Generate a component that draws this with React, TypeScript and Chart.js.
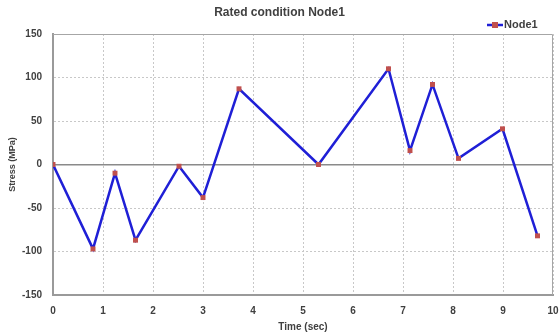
import React, { useEffect, useRef } from "react";
import { Chart, registerables } from "chart.js";

Chart.register(...registerables);

const chartTitle = "Rated condition Node1";
const seriesName = "Node1";
const timeSec = [0, 0.8, 1.24, 1.65, 2.52, 3.0, 3.72, 5.31, 6.71, 7.14, 7.59, 8.11, 8.99, 9.69];
const stressMPa = [0, -97, -10, -87, -2, -38, 87, 0, 110, 16, 92, 7, 41, -82];
const xTicks = [0, 10, 1];
const yTicks = [-150, 150, 50];

const LINE = "#1f1fd6";
const MARK = "#c0504d";
const FONT = "'Liberation Sans', Arial, sans-serif";
const TXT = "#404040";

const framePlugin = {
  id: "frame",
  afterDraw(chart: any) {
    const { ctx, chartArea: a } = chart;
    ctx.save();
    ctx.strokeStyle = "#a6a6a6";
    ctx.lineWidth = 1;
    ctx.beginPath();
    ctx.moveTo(a.left, a.top + 0.5);
    ctx.lineTo(a.right - 0.5, a.top + 0.5);
    ctx.lineTo(a.right - 0.5, a.bottom);
    ctx.stroke();
    // legend
    const ly = 25;
    const lx = 487;
    ctx.strokeStyle = LINE;
    ctx.lineWidth = 2.5;
    ctx.beginPath();
    ctx.moveTo(lx, ly);
    ctx.lineTo(lx + 16, ly);
    ctx.stroke();
    ctx.fillStyle = MARK;
    ctx.fillRect(lx + 5, ly - 3, 6, 6);
    ctx.fillStyle = TXT;
    ctx.font = `bold 11px ${FONT}`;
    ctx.textBaseline = "middle";
    ctx.textAlign = "left";
    ctx.fillText(seriesName, lx + 17, ly);
    ctx.restore();
  },
};

export default function App() {
  const ref = useRef<HTMLCanvasElement>(null);
  useEffect(() => {
    const chart = new Chart(ref.current!, {
      type: "line",
      data: {
        datasets: [
          {
            label: seriesName,
            data: timeSec.map((t, i) => ({ x: t, y: stressMPa[i] })),
            borderColor: LINE,
            borderWidth: 2.5,
            pointStyle: "rect",
            pointRadius: 3.5,
            pointBackgroundColor: MARK,
            pointBorderColor: MARK,
            pointBorderWidth: 0,
            tension: 0,
          },
        ],
      },
      options: {
        animation: false,
        responsive: false,
        layout: { padding: { top: 0, right: 0, bottom: 0, left: 0 } },
        plugins: {
          legend: { display: false },
          tooltip: { enabled: false },
          title: {
            display: true,
            text: chartTitle,
            color: TXT,
            font: { family: FONT, size: 12, weight: "bold", lineHeight: 1.2 },
            padding: { top: 5, bottom: 14.6 },
          },
        },
        scales: {
          x: {
            type: "linear",
            min: xTicks[0],
            max: xTicks[1],
            ticks: {
              stepSize: xTicks[2],
              color: TXT,
              font: { family: FONT, size: 10, weight: "bold" },
              padding: 10,
              maxRotation: 0,
            },
            grid: { color: "#c8c8c8", drawTicks: false },
            border: { color: "#9a9a9a", width: 2, dash: [2, 2] },
            title: {
              display: true,
              text: "Time (sec)",
              color: TXT,
              font: { family: FONT, size: 10, weight: "bold" },
              padding: { top: 2, bottom: 2 },
            },
            afterFit: (s: any) => {
              s.height = 40;
              s.paddingLeft = 0;
              s.paddingRight = 6;
            },
          },
          y: {
            min: yTicks[0],
            max: yTicks[1],
            ticks: {
              stepSize: yTicks[2],
              color: TXT,
              font: { family: FONT, size: 10, weight: "bold" },
              padding: 11,
            },
            grid: {
              color: (c: any) => (c.tick && c.tick.value === 0 ? "#8a8a8a" : "#c8c8c8"),
              lineWidth: (c: any) => (c.tick && c.tick.value === 0 ? 1.5 : 1),
              drawTicks: false,
            },
            border: {
              color: "#9a9a9a",
              width: 2,
              dash: (c: any) => (c.tick && c.tick.value === 0 ? [] : [2, 2]),
            },
            title: {
              display: true,
              text: "Stress (MPa)",
              color: TXT,
              font: { family: FONT, size: 9, weight: "bold" },
              padding: { top: 7, bottom: 0 },
            },
            afterFit: (s: any) => {
              s.width = 53;
              s.paddingTop = 0;
              s.paddingBottom = 0;
            },
          },
        },
      },
      plugins: [framePlugin],
    } as any);
    return () => chart.destroy();
  }, []);
  return (
    <div style={{ position: "fixed", left: 0, top: 0, width: 559, height: 335, background: "#fff" }}>
      <canvas ref={ref} width={559} height={335} />
    </div>
  );
}
